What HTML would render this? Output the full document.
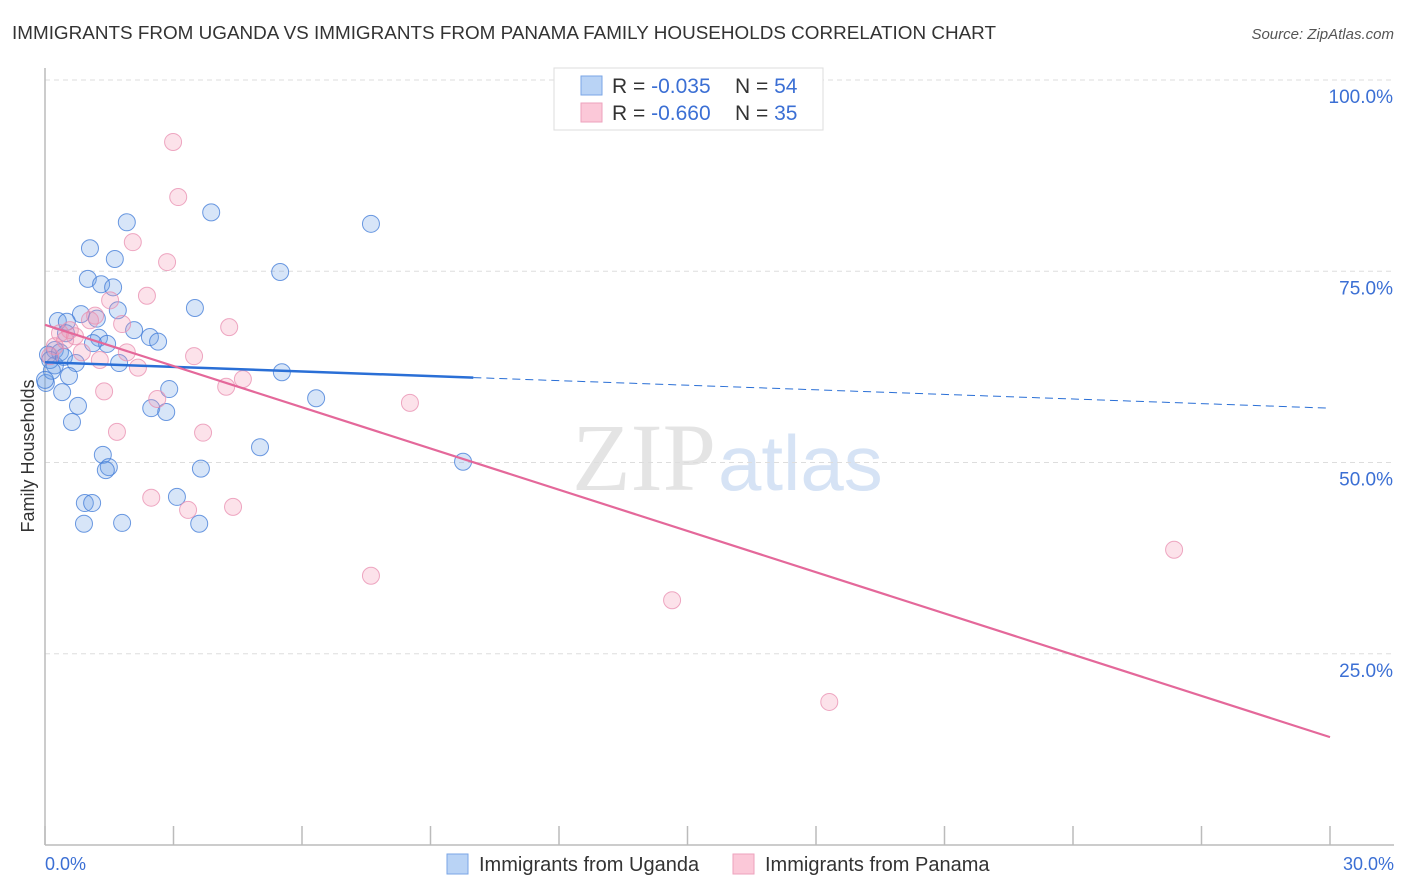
<!DOCTYPE html>
<html><head><meta charset="utf-8">
<style>
body{margin:0;background:#fff;font-family:"Liberation Sans",sans-serif;}
svg{display:block}
</style></head>
<body>
<svg id="chart" width="1406" height="892" xmlns="http://www.w3.org/2000/svg">
<text x="12" y="39" font-size="18" fill="#333" textLength="984" lengthAdjust="spacingAndGlyphs">IMMIGRANTS FROM UGANDA VS IMMIGRANTS FROM PANAMA FAMILY HOUSEHOLDS CORRELATION CHART</text>
<text x="1394" y="39" font-size="15" fill="#555" font-style="italic" text-anchor="end">Source: ZipAtlas.com</text>
<text x="716" y="490" font-size="96" fill="#e4e4e4" text-anchor="end" font-family="Liberation Serif,serif">ZIP</text>
<text x="718" y="490" font-size="78" fill="#d6e3f5">atlas</text>
<g id="grid"></g>
<line x1="45" y1="68" x2="45" y2="845" stroke="#bbb" stroke-width="1.5"/>
<line x1="45" y1="845" x2="1394" y2="845" stroke="#bbb" stroke-width="1.5"/>
<g id="xticks"></g>
<text x="34" y="456" font-size="18" fill="#333" text-anchor="middle" transform="rotate(-90 34 456)">Family Households</text>
<g id="points"></g>
<g id="lines"></g>
<g>
<rect x="554" y="68" width="269" height="62" fill="#fff" stroke="#ddd"/>
<rect x="581" y="76" width="21" height="19" fill="#b9d3f5" stroke="#7aa6e6"/>
<rect x="581" y="103" width="21" height="19" fill="#fbc8d8" stroke="#eea2bd"/>
<text x="612" y="93" font-size="21" fill="#333">R = <tspan fill="#3b6fd4">-0.035</tspan><tspan x="735">N = </tspan><tspan fill="#3b6fd4">54</tspan></text>
<text x="612" y="120" font-size="21" fill="#333">R = <tspan fill="#3b6fd4">-0.660</tspan><tspan x="735">N = </tspan><tspan fill="#3b6fd4">35</tspan></text>
</g>
<text x="45" y="870" font-size="18" fill="#3b6fd4">0.0%</text>
<text x="1394" y="870" font-size="18" fill="#3b6fd4" text-anchor="end">30.0%</text>
<g>
<rect x="447" y="854" width="21" height="20" fill="#b9d3f5" stroke="#7aa6e6"/>
<text x="479" y="871" font-size="20" fill="#333">Immigrants from Uganda</text>
<rect x="733" y="854" width="21" height="20" fill="#fbc8d8" stroke="#eea2bd"/>
<text x="765" y="871" font-size="20" fill="#333">Immigrants from Panama</text>
</g>
</svg>
<script>
const ugandaX=[1.91,3.88,7.61,1.05,1.63,5.49,1.00,1.31,1.59,3.50,1.70,0.84,1.21,0.30,0.51,2.08,2.45,2.64,1.26,1.45,1.12,0.49,0.23,0.07,0.35,0.72,1.73,5.53,0.56,0.23,0.02,0.40,2.90,6.33,0.77,2.48,2.83,0.63,5.02,1.35,9.76,1.49,1.42,3.64,3.08,0.93,1.10,0.91,1.80,3.60,0.12,0.16,0.44,0.00];
const ugandaY=[81.4,82.7,81.2,78.0,76.6,74.9,74.0,73.3,72.9,70.2,69.9,69.4,68.8,68.5,68.4,67.3,66.4,65.8,66.3,65.5,65.6,66.9,64.7,64.1,64.4,63.0,63.0,61.8,61.3,62.7,60.4,59.2,59.6,58.4,57.4,57.1,56.6,55.3,52.0,51.0,50.1,49.4,49.0,49.2,45.5,44.7,44.7,42.0,42.1,42.0,63.4,62.0,63.8,60.8];
const panamaX=[2.99,3.11,2.05,2.85,2.38,1.52,1.17,1.80,4.30,0.58,0.35,0.70,1.91,3.48,0.86,1.28,2.17,4.62,4.23,1.38,2.62,8.52,1.68,3.69,2.48,3.34,4.39,7.61,14.64,26.36,18.31,0.23,0.47,0.12,1.05];
const panamaY=[91.9,84.7,78.8,76.2,71.8,71.2,69.2,68.1,67.7,67.3,66.9,66.5,64.4,63.9,64.4,63.4,62.4,60.9,59.9,59.3,58.3,57.8,54.0,53.9,45.4,43.8,44.2,35.2,32.0,38.6,18.7,65.2,66.0,63.9,68.6];
const yTicks=[25,50,75,100];
const yTickLabels=["25.0%","50.0%","75.0%","100.0%"];
const xTicks=[0,3,6,9,12,15,18,21,24,27,30];
const ugandaTrend=[63.1,57.1];
const panamaTrend=[68.0,14.1];
const ugandaSolidEnd=10;
const NS="http://www.w3.org/2000/svg";
const sx=v=>45+v*(1285/30);
const sy=v=>845-v*7.65;
function mk(tag,attrs,parent){const e=document.createElementNS(NS,tag);for(const k in attrs)e.setAttribute(k,attrs[k]);parent.appendChild(e);return e;}
const grid=document.getElementById('grid');
yTicks.forEach((t,i)=>{
  const l=mk('line',{x1:45,x2:1394,y1:sy(t),y2:sy(t),stroke:'#ddd','stroke-dasharray':'5,4'},grid);
  
  
  const tx=mk('text',{x:1393,y:sy(t)+23,'font-size':19,fill:'#3b6fd4','text-anchor':'end'},grid);
  tx.textContent=yTickLabels[i];
  
  
});
const xt=document.getElementById('xticks');
xTicks.forEach(t=>{
  const l=mk('line',{x1:sx(t),x2:sx(t),y1:826,y2:845,stroke:'#bbb','stroke-width':1.5},xt);
  
  
});
const pts=document.getElementById('points');
ugandaX.forEach((x,i)=>{
  const c=mk('circle',{cx:sx(x),cy:sy(ugandaY[i]),r:8.5,fill:'rgba(110,160,230,0.28)',stroke:'rgba(60,120,215,0.75)','stroke-width':1},pts);
  
  
});
panamaX.forEach((x,i)=>{
  const c=mk('circle',{cx:sx(x),cy:sy(panamaY[i]),r:8.5,fill:'rgba(245,150,180,0.28)',stroke:'rgba(232,140,175,0.75)','stroke-width':1},pts);
  
  
});
const ln=document.getElementById('lines');
const uy=x=>ugandaTrend[0]+(ugandaTrend[1]-ugandaTrend[0])*x/30;
const py=x=>panamaTrend[0]+(panamaTrend[1]-panamaTrend[0])*x/30;
let l1=mk('line',{x1:sx(0),y1:sy(uy(0)),x2:sx(ugandaSolidEnd),y2:sy(uy(ugandaSolidEnd)),stroke:'#2a6fd6','stroke-width':2.5},ln);


let l2=mk('line',{x1:sx(ugandaSolidEnd),y1:sy(uy(ugandaSolidEnd)),x2:sx(30),y2:sy(uy(30)),stroke:'#2a6fd6','stroke-width':1,'stroke-dasharray':'8,5'},ln);


let l3=mk('line',{x1:sx(0),y1:sy(py(0)),x2:sx(30),y2:sy(py(30)),stroke:'#e4689a','stroke-width':2.2},ln);


</script>
</body></html>
